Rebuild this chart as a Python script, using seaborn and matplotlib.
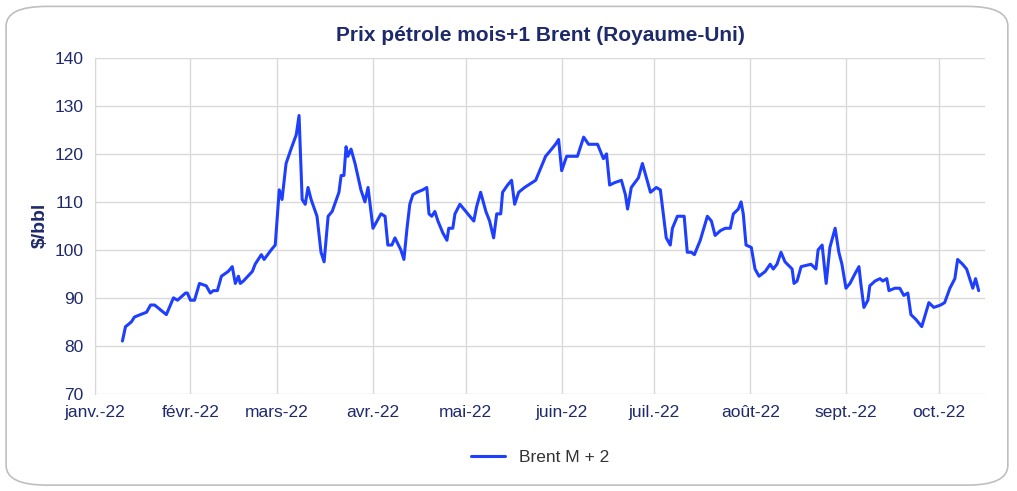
import matplotlib
matplotlib.use("Agg")
import matplotlib.pyplot as plt
from matplotlib.patches import FancyBboxPatch
import seaborn as sns
import pandas as pd

days = [9.0,10.0,11.0,11.9,12.9,14.8,16.8,18.1,19.4,23.2,25.5,26.8,29.4,30.0,31.0,32.3,33.9,36.1,37.4,38.4,39.7,41.0,43.2,44.5,45.5,46.5,47.1,48.1,51.0,51.9,53.9,54.8,57.1,58.4,59.7,60.6,61.9,63.5,65.2,66.1,67.1,68.1,69.0,70.0,71.9,73.2,74.2,75.5,76.8,79.0,79.7,80.6,81.3,81.9,82.9,84.2,86.1,87.4,88.4,90.0,91.3,92.6,93.9,94.8,96.1,97.1,99.0,100.0,101.0,101.9,102.9,104.2,106.1,107.4,108.1,109.0,110.0,111.0,112.6,113.9,114.5,115.8,116.5,118.1,120.0,121.3,122.6,123.5,124.8,126.5,127.7,129.0,130.0,131.3,131.9,133.5,134.8,135.8,137.1,139.0,142.6,144.2,145.8,147.1,149.0,150.0,151.0,152.6,154.8,156.1,158.1,159.7,162.6,164.5,165.5,166.5,168.1,170.3,171.6,172.3,173.5,175.8,177.1,179.7,181.6,182.9,184.8,186.1,186.8,188.4,190.6,191.6,192.9,193.9,195.8,198.1,199.4,200.6,202.3,203.9,205.5,206.5,208.1,209.0,209.7,210.6,212.3,213.5,214.8,216.8,218.4,219.4,220.6,221.9,223.2,225.5,226.1,227.1,228.4,231.6,233.2,233.9,235.2,236.5,237.7,239.4,240.6,241.6,242.9,244.2,245.8,247.1,247.7,248.7,250.0,250.6,252.3,253.9,254.8,256.1,256.8,258.7,260.3,261.6,262.9,263.9,265.5,267.4,269.7,271.3,273.5,274.8,276.5,278.1,279.0,280.6,281.9,283.9,284.8,285.8]
prices = [81,84,84.5,85,86,86.5,87,88.5,88.5,86.5,90,89.5,91,91,89.5,89.5,93,92.5,91,91.5,91.5,94.5,95.5,96.5,93,94.5,93,93.5,95.5,97,99,98,100,101,112.5,110.5,118,121,124,128,110.5,109.5,113,110.5,107,99.5,97.5,107,108,112,115.5,115.5,121.5,119.5,121,118,112.5,110,113,104.5,106,107.5,107,101,101,102.5,100,98,104.5,109.5,111.5,112,112.5,113,107.5,107,108,106,103.5,102,104.5,104.5,107.5,109.5,108,107,106,109,112,108,106,102.5,107.5,107.5,112,113.5,114.5,109.5,112,113,114.5,117,119.5,120.5,122,123,116.5,119.5,119.5,119.5,123.5,122,122,119,120,113.5,114,114.5,111.5,108.5,113,115,118,112,113,112.5,102.5,101,104.5,107,107,99.5,99.5,99,102,107,106,103,104,104.5,104.5,107.5,108.5,110,107.5,101,100.5,96,94.5,95.5,97,96,97,99.5,97.5,96,93,93.5,96.5,97,96,100,101,93,100.5,104.5,99.5,97,92,93,95,96.5,93,88,89.5,92.5,93.5,94,93.5,94,91.5,92,92,90.5,91,86.5,85.5,84,89,88,88.5,89,92,94,98,97,96,92,94,91.5]
month_labels = ["janv.-22","févr.-22","mars-22","avr.-22","mai-22","juin-22","juil.-22","août-22","sept.-22","oct.-22"]

df = pd.DataFrame({"date": pd.Timestamp("2022-01-01") + pd.to_timedelta(days, unit="D"), "price": prices})

sns.set_style("white")
plt.rcParams['font.family'] = ['Liberation Sans', 'DejaVu Sans']
navy = "#1f2a6b"
fig = plt.figure(figsize=(10.17, 4.91), dpi=100)
box = FancyBboxPatch((0.006, 0.012), 0.985, 0.975, boxstyle="round,pad=0,rounding_size=0.04",
                     transform=fig.transFigure, fc="white", ec="#bfbfbf", lw=1.2, zorder=-10)
fig.patches.append(box)
ax = fig.add_axes([0.093, 0.198, 0.876, 0.684])
ax.patch.set_alpha(0)
sns.lineplot(data=df, x="date", y="price", ax=ax, color="#1f3fff", lw=2.2, label="Brent M + 2")

ax.set_ylim(70, 140)
ax.set_yticks(range(70, 141, 10))
ticks = pd.date_range("2022-01-01", "2022-10-01", freq="MS")
ax.set_xticks(ticks)
ax.set_xticklabels(month_labels)
ax.set_xlim(pd.Timestamp("2022-01-01"), pd.Timestamp("2022-10-16"))
ax.grid(True, color="#d9d9d9", lw=1)
for s in ax.spines.values():
    s.set_visible(False)
ax.spines['left'].set_visible(True)
ax.spines['left'].set_color("#d9d9d9")
ax.tick_params(axis='both', labelsize=12.5, colors=navy, length=0)
ax.tick_params(axis='x', pad=8)
ax.tick_params(axis='y', pad=8)
ax.set_xlabel("")
ax.set_ylabel("$/bbl", fontsize=14, fontweight="bold", color=navy)
ax.set_title("Prix pétrole mois+1 Brent (Royaume-Uni)", fontsize=15, fontweight="bold", color=navy, pad=12)
leg = ax.legend(loc="upper center", bbox_to_anchor=(0.5, -0.12), frameon=False, fontsize=12.5)
for t in leg.get_texts():
    t.set_color("#333333")
fig.savefig("out.png", dpi=100)
